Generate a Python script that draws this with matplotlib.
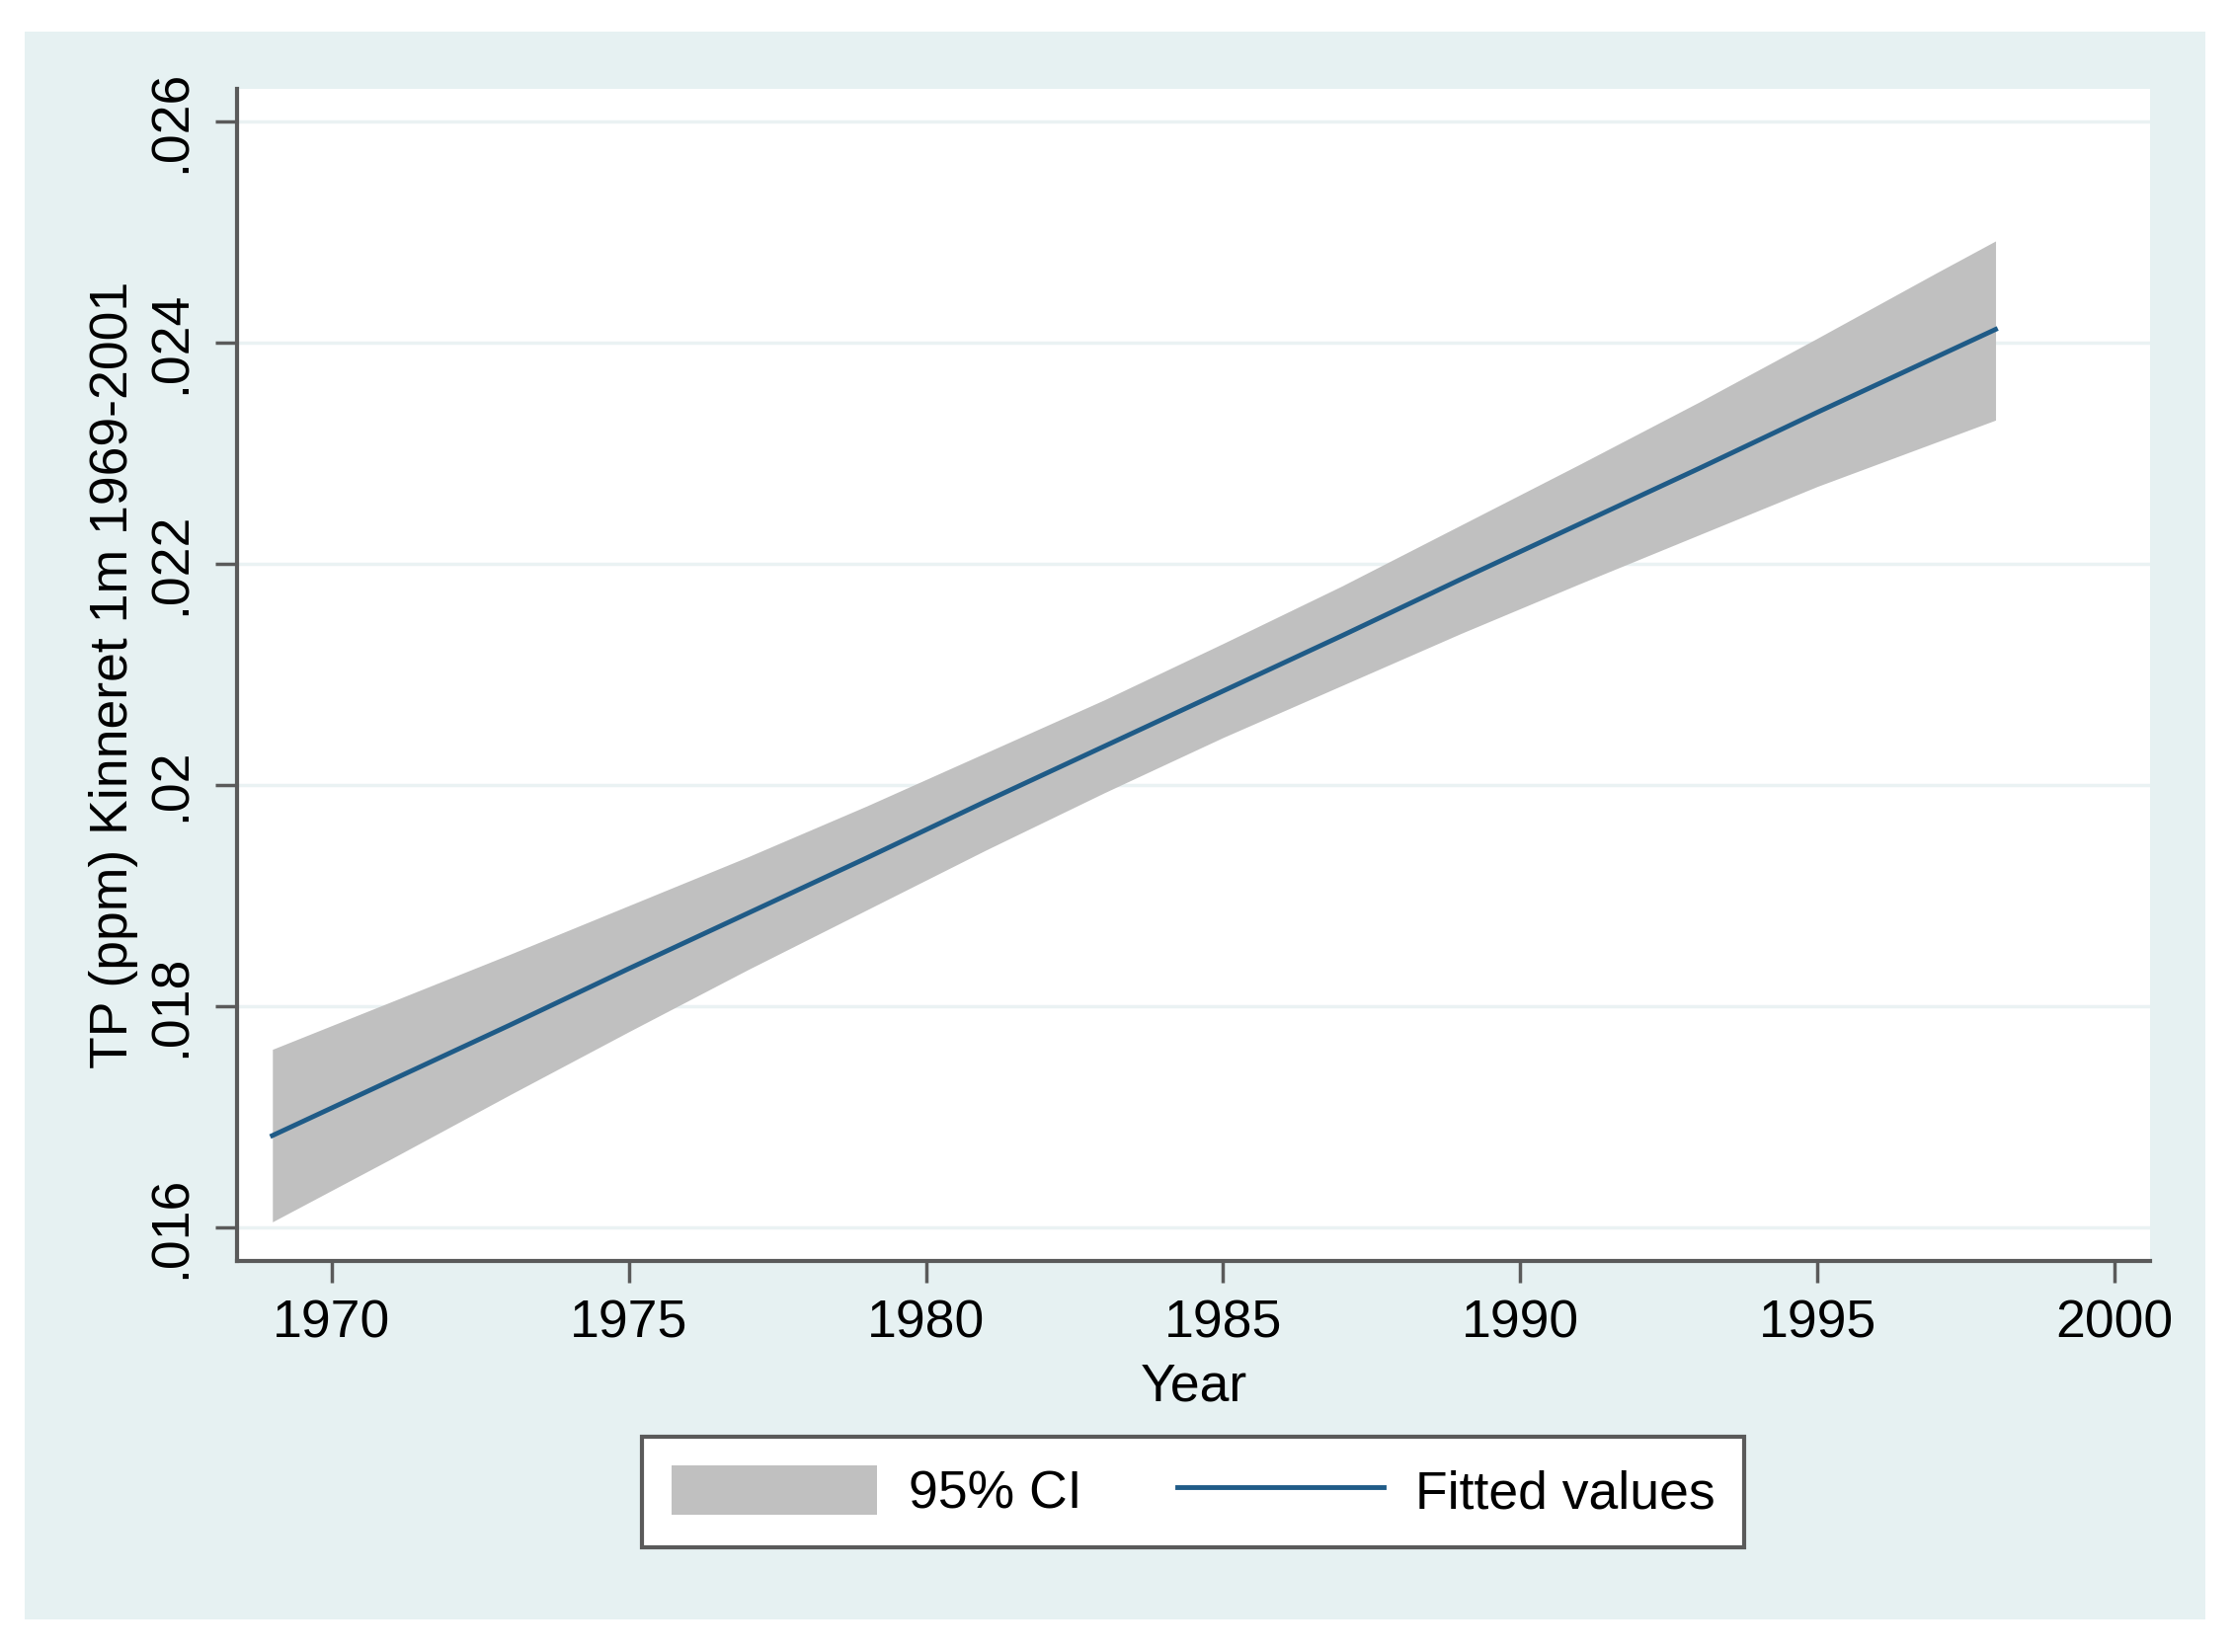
import numpy as np
import matplotlib
matplotlib.use('Agg')
import matplotlib.pyplot as plt
from matplotlib.patches import Rectangle, Patch
from matplotlib.lines import Line2D

# values (linear fit with 95% CI)
years = [1969, 1971, 1973, 1975, 1977, 1979, 1981, 1983,
         1985, 1987, 1989, 1991, 1993, 1995, 1997, 1998]
fitted = [0.01683, 0.01733, 0.01783, 0.01834, 0.01884, 0.01934, 0.01985, 0.02035,
          0.02085, 0.02135, 0.02186, 0.02236, 0.02286, 0.02337, 0.02387, 0.02412]
ci_upper = [0.01761, 0.01804, 0.01847, 0.01891, 0.01935, 0.01981, 0.02029, 0.02077,
            0.02128, 0.02180, 0.02235, 0.02290, 0.02346, 0.02404, 0.02463, 0.02492]
ci_lower = [0.01605, 0.01662, 0.01720, 0.01777, 0.01833, 0.01887, 0.01941, 0.01993,
            0.02043, 0.02090, 0.02137, 0.02182, 0.02226, 0.02270, 0.02310, 0.02330]

x_ticks = [1970, 1975, 1980, 1985, 1990, 1995, 2000]
y_ticks = [0.016, 0.018, 0.020, 0.022, 0.024, 0.026]
y_tick_labels = ['.016', '.018', '.02', '.022', '.024', '.026']

plt.rcParams['font.family'] = ['Liberation Sans', 'DejaVu Sans']
FS = 38.5
panel = '#E6F1F2'
axis_col = '#5a5a5a'
line_col = '#1f5b87'

fig = plt.figure(figsize=(22.62, 16.73), dpi=100)
fig.patch.set_facecolor('white')
fig.patches.append(Rectangle((0.011, 0.0197), 0.976, 0.9613, transform=fig.transFigure,
                             facecolor=panel, edgecolor='none', zorder=-10))

ax = fig.add_axes([0.1061, 0.2367, 0.8563, 0.7095])
ax.set_facecolor('white')

ax.fill_between(years, ci_lower, ci_upper, color='#C0C0C0', linewidth=0, zorder=2)
ax.plot(years, fitted, color=line_col, linewidth=3.5, zorder=3)

ax.set_xlim(1968.405, 2000.6)
ax.set_ylim(0.015696, 0.026295)

ax.set_xticks(x_ticks)
ax.set_yticks(y_ticks)
ax.set_yticklabels(y_tick_labels, rotation=90, va='center')
ax.tick_params(axis='both', labelsize=FS, length=16, width=2.5, color=axis_col)
ax.tick_params(axis='y', pad=14)
ax.tick_params(axis='x', pad=12)

ax.grid(axis='y', color='#EAF2F3', linewidth=2.5, zorder=1)
ax.set_axisbelow(True)

for side in ['top', 'right']:
    ax.spines[side].set_visible(False)
for side in ['left', 'bottom']:
    ax.spines[side].set_color(axis_col)
    ax.spines[side].set_linewidth(3)

ax.set_xlabel('Year', fontsize=FS, labelpad=10)
ax.set_ylabel('TP (ppm) Kinneret 1m 1969-2001', fontsize=FS, labelpad=6)

handles = [Patch(facecolor='#C0C0C0', edgecolor='none'),
           Line2D([], [], color=line_col, linewidth=3.5)]
leg = fig.legend(handles, ['95% CI', 'Fitted values'], loc='center',
                 bbox_to_anchor=(0.534, 0.0968), ncol=2, fontsize=FS,
                 frameon=True, fancybox=False, handlelength=3.9, handleheight=1.05,
                 handletextpad=0.6, columnspacing=1.8, borderpad=0.55)
leg.get_frame().set_edgecolor(axis_col)
leg.get_frame().set_linewidth(3)
leg.get_frame().set_facecolor('white')
leg.get_frame().set_alpha(1)

fig.savefig('out.png', dpi=100, facecolor=fig.get_facecolor())
